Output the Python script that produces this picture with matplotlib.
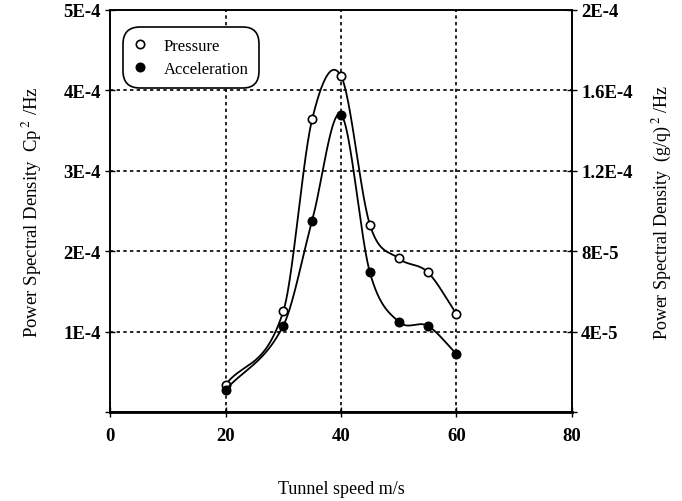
import numpy as np
import matplotlib
matplotlib.use("Agg")
import matplotlib.pyplot as plt
from matplotlib.lines import Line2D

# Data
speed = [20, 30, 35, 40, 45, 50, 55, 60]
pressure = [3.4e-5, 1.25e-4, 3.64e-4, 4.18e-4, 2.33e-4, 1.91e-4, 1.74e-4, 1.22e-4]
acceleration = [1.1e-5, 4.29e-5, 9.52e-5, 1.48e-4, 6.95e-5, 4.49e-5, 4.29e-5, 2.89e-5]

x_ticks = [0, 20, 40, 60, 80]
left_ticks = [0, 1e-4, 2e-4, 3e-4, 4e-4, 5e-4]
left_labels = ["", "1E-4", "2E-4", "3E-4", "4E-4", "5E-4"]
right_ticks = [0, 4e-5, 8e-5, 1.2e-4, 1.6e-4, 2e-4]
right_labels = ["", "4E-5", "8E-5", "1.2E-4", "1.6E-4", "2E-4"]


def smooth_curve(x, y, per_seg=60):
    # Catmull-Rom style cubic Hermite through the measured points
    x = np.asarray(x, float)
    y = np.asarray(y, float)
    k = len(x)
    m = np.zeros(k)
    m[0] = (y[1] - y[0]) / (x[1] - x[0])
    m[-1] = (y[-1] - y[-2]) / (x[-1] - x[-2])
    for i in range(1, k - 1):
        m[i] = (y[i + 1] - y[i - 1]) / (x[i + 1] - x[i - 1])
    xs_all, ys_all = [], []
    for i in range(k - 1):
        h = x[i + 1] - x[i]
        t = np.linspace(0, 1, per_seg)
        h00 = 2 * t**3 - 3 * t**2 + 1
        h10 = t**3 - 2 * t**2 + t
        h01 = -2 * t**3 + 3 * t**2
        h11 = t**3 - t**2
        xs_all.append(x[i] + t * h)
        ys_all.append(h00 * y[i] + h10 * h * m[i] + h01 * y[i + 1] + h11 * h * m[i + 1])
    return np.concatenate(xs_all), np.concatenate(ys_all)


plt.rcParams['font.family'] = ['Liberation Serif', 'DejaVu Serif']
plt.rcParams['mathtext.fontset'] = 'stix'

fig = plt.figure(figsize=(6.82, 5.02), dpi=100)
ax = fig.add_axes([0.1613, 0.1773, 0.6774, 0.8008])
ax2 = ax.twinx()

# pressure on left axis
xs, ys = smooth_curve(speed, pressure)
ax.plot(xs, ys, color='black', lw=1.3, zorder=3)
ax.plot(speed, pressure, 'o', ms=6, mfc='white', mec='black', mew=1.2, zorder=4)

# acceleration on right axis
xs, ys = smooth_curve(speed, acceleration)
ax2.plot(xs, ys, color='black', lw=1.3, zorder=3)
ax2.plot(speed, acceleration, 'o', ms=6, mfc='black', mec='black', mew=1.2, zorder=4)

ax.set_xlim(0, 80)
ax.set_ylim(0, 5e-4)
ax2.set_ylim(0, 2e-4)

ax.set_xticks(x_ticks)
ax.set_xticklabels([str(v) for v in x_ticks], fontweight='bold')
ax.set_yticks(left_ticks)
ax.set_yticklabels(left_labels, fontweight='bold')
ax2.set_yticks(right_ticks)
ax2.set_yticklabels(right_labels, fontweight='bold')

for a in (ax, ax2):
    a.tick_params(direction='inout', length=7, width=1, labelsize=13.5, pad=3)
    for s in a.spines.values():
        s.set_linewidth(1.2)
ax.spines['bottom'].set_linewidth(2)
ax.tick_params(axis='x', pad=7)

ax.grid(True, color='black', linestyle=(0, (2, 2)), lw=1.2)

ax.set_xlabel("Tunnel speed m/s", fontsize=13, labelpad=26)
ax.set_ylabel(r"Power Spectral Density  Cp$\,^{\mathrm{2}}$ /Hz", fontsize=13.5, labelpad=14)
ax2.set_ylabel(r"Power Spectral Density  (g/q)$\,^{\mathrm{2}}$ /Hz", fontsize=13, labelpad=13)

handles = [
    Line2D([], [], ls='none', marker='o', ms=6, mfc='white', mec='black', mew=1.2),
    Line2D([], [], ls='none', marker='o', ms=6, mfc='black', mec='black', mew=1.2),
]
leg = ax2.legend(handles, ["Pressure", "Acceleration"], loc='upper left',
                 bbox_to_anchor=(0.028, 0.958), borderaxespad=0, fontsize=12,
                 frameon=True, fancybox=True, handlelength=0.8, handletextpad=1.0,
                 labelspacing=0.45, borderpad=0.65)
frame = leg.get_frame()
frame.set_edgecolor('black')
frame.set_linewidth(1.2)
frame.set_alpha(1)
frame.set_boxstyle('round', pad=0, rounding_size=1.0)

fig.savefig("out.png", dpi=100)
